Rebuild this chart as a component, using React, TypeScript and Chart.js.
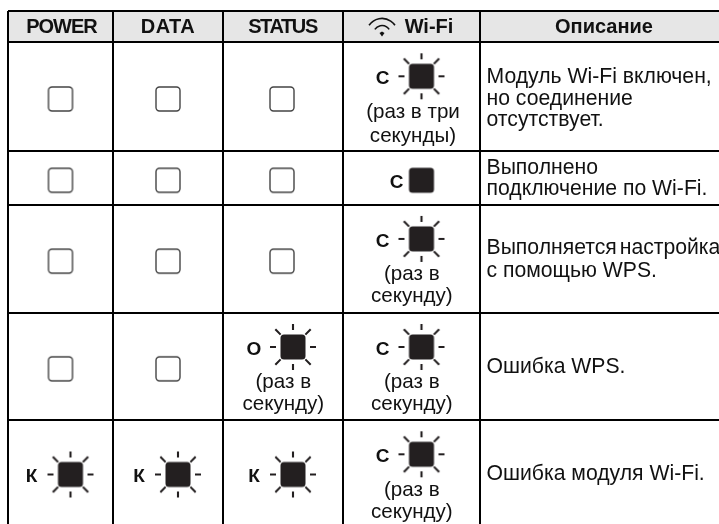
import React, { useEffect, useRef } from "react";
import { Chart, registerables } from "chart.js";

Chart.register(...registerables);

// Table grid, in the picture's own units
const columnEdges = [8, 113, 223, 343, 480];
const rowEdges = [11, 42, 151, 204.6, 312.7, 420];

const headers = ["POWER", "DATA", "STATUS", "Wi-Fi", "Описание"];

// LED state per row: "off" | "solid" | "blink", with a colour letter
const powerStates = ["off", "off", "off", "off", "blink"];
const dataStates = ["off", "off", "off", "off", "blink"];
const statusStates = ["off", "off", "off", "blink", "blink"];
const wifiStates = ["blink", "solid", "blink", "blink", "blink"];

const powerLetters = ["", "", "", "", "К"];
const dataLetters = ["", "", "", "", "К"];
const statusLetters = ["", "", "", "О", "К"];
const wifiLetters = ["С", "С", "С", "С", "С"];

const statusNotes: string[][] = [[], [], [], ["(раз в", "секунду)"], []];
const wifiNotes: string[][] = [
  ["(раз в три", "секунды)"],
  [],
  ["(раз в", "секунду)"],
  ["(раз в", "секунду)"],
  ["(раз в", "секунду)"],
];

const descriptions: string[][] = [
  ["Модуль Wi-Fi включен,", "но соединение", "отсутствует."],
  ["Выполнено", "подключение по Wi-Fi."],
  ["Выполняется настройка", "с помощью WPS."],
  ["Ошибка WPS."],
  ["Ошибка модуля Wi-Fi."],
];

const INK = "#231f20";
const FONT = '"Liberation Sans", Arial, sans-serif';

function sprite(size: number, draw: (c: CanvasRenderingContext2D) => void) {
  const cv = document.createElement("canvas");
  cv.width = size;
  cv.height = size;
  const c = cv.getContext("2d")!;
  c.translate(size / 2, size / 2);
  draw(c);
  return cv;
}

function makeOff() {
  return sprite(28, (c) => {
    c.beginPath();
    c.roundRect(-12, -12, 24, 24, 3.5);
    c.fillStyle = "#fff";
    c.fill();
    c.strokeStyle = "#444";
    c.lineWidth = 1.4;
    c.stroke();
  });
}

function makeSolid() {
  return sprite(28, (c) => {
    c.beginPath();
    c.roundRect(-12.5, -12.5, 25, 25, 3.5);
    c.fillStyle = INK;
    c.fill();
  });
}

function makeBlink() {
  return sprite(52, (c) => {
    c.beginPath();
    c.roundRect(-12.5, -12.5, 25, 25, 3.5);
    c.fillStyle = INK;
    c.fill();
    c.strokeStyle = INK;
    c.lineWidth = 2.1;
    c.beginPath();
    for (let i = 0; i < 8; i++) {
      const a = (i * Math.PI) / 4;
      const diag = i % 2 === 1;
      const r0 = diag ? 17.5 : 17;
      const r1 = diag ? 25 : 23;
      c.moveTo(Math.cos(a) * r0, Math.sin(a) * r0);
      c.lineTo(Math.cos(a) * r1, Math.sin(a) * r1);
    }
    c.stroke();
  });
}

function makeWifi() {
  return sprite(32, (c) => {
    c.strokeStyle = "#111";
    c.fillStyle = "#111";
    c.lineWidth = 1.6;
    const cy = 7;
    c.beginPath();
    c.arc(0, cy, 15.6, -Math.PI / 2 - 0.98, -Math.PI / 2 + 0.98);
    c.stroke();
    c.beginPath();
    c.arc(0, cy, 8.5, -Math.PI / 2 - 1, -Math.PI / 2 + 1);
    c.stroke();
    c.beginPath();
    c.moveTo(-2.5, cy - 1);
    c.lineTo(0, cy - 2.5);
    c.lineTo(2.5, cy - 1);
    c.lineTo(0, cy + 2.5);
    c.closePath();
    c.fill();
  });
}

const colCenter = (i: number) => (columnEdges[i] + (columnEdges[i + 1] ?? 720)) / 2;
const rowCenter = (r: number) => (rowEdges[r + 1] + (rowEdges[r + 2] ?? 524)) / 2;
const rowTop = (r: number) => rowEdges[r + 1];

const ledColumns = [
  { states: powerStates, letters: powerLetters, notes: [] as string[][], col: 0 },
  { states: dataStates, letters: dataLetters, notes: [] as string[][], col: 1 },
  { states: statusStates, letters: statusLetters, notes: statusNotes, col: 2 },
  { states: wifiStates, letters: wifiLetters, notes: wifiNotes, col: 3 },
];

function ledY(r: number, hasNote: boolean) {
  return hasNote ? rowTop(r) + 34.3 : rowCenter(r) + 2.5;
}

function ledPoints(state: string) {
  const pts: { x: number; y: number }[] = [];
  ledColumns.forEach(({ states, notes, col }) => {
    states.forEach((s, r) => {
      if (s !== state) return;
      const cx = colCenter(col);
      const x = s === "off" ? cx - (col === 2 ? 1 : 0) : cx + 10;
      pts.push({ x, y: ledY(r, !!notes[r]?.length) });
    });
  });
  return pts;
}

const tablePlugin = {
  id: "tablePlugin",
  beforeDraw(chart: any) {
    const { ctx } = chart;
    const xs = chart.scales.x;
    const ys = chart.scales.y;
    ctx.save();
    ctx.fillStyle = "#e6e6e6";
    ctx.fillRect(
      xs.getPixelForValue(columnEdges[0]),
      ys.getPixelForValue(rowEdges[0]),
      xs.getPixelForValue(719) - xs.getPixelForValue(columnEdges[0]),
      ys.getPixelForValue(rowEdges[1]) - ys.getPixelForValue(rowEdges[0])
    );
    ctx.restore();
  },
  afterDraw(chart: any) {
    const { ctx } = chart;
    const X = (v: number) => chart.scales.x.getPixelForValue(v);
    const Y = (v: number) => chart.scales.y.getPixelForValue(v);
    ctx.save();
    ctx.fillStyle = "#111";
    ctx.textBaseline = "alphabetic";

    // headers
    ctx.font = `bold 20px ${FONT}`;
    ctx.textAlign = "center";
    const headerX = [61.5, 168, 282.5, 429, 604];
    const headerTrack = ["-1px", "0.5px", "-1.4px", "0px", "0px"];
    headers.forEach((h, i) => {
      ctx.letterSpacing = headerTrack[i];
      ctx.fillText(h, X(headerX[i]), Y(33));
    });
    ctx.letterSpacing = "0px";

    // letters & notes
    ledColumns.forEach(({ letters, notes, states, col }) => {
      const cx = colCenter(col);
      letters.forEach((l, r) => {
        if (!l) return;
        const hasNote = !!notes[r]?.length;
        const y = ledY(r, hasNote);
        const isSolid = states[r] === "solid";
        ctx.font = `bold 19px ${FONT}`;
        ctx.textAlign = "center";
        ctx.fillText(l, X(cx + (isSolid ? -15 : -29)), Y(y + 7.8));
      });
      notes.forEach((lines, r) => {
        ctx.font = `20.6px ${FONT}`;
        ctx.textAlign = "center";
        const step = r === 0 ? 24 : 22;
        lines.forEach((t, k) =>
          ctx.fillText(t, X(cx + (r === 0 ? 1.5 : 0.3)), Y(rowTop(r) + 75.7 + k * step))
        );
      });
    });

    // descriptions
    ctx.font = `21.2px ${FONT}`;
    ctx.textAlign = "left";
    const baselines = [[83, 105, 126], [173.5, 195], [254, 277], [373], [480]];
    descriptions.forEach((lines, r) =>
      lines.forEach((t, k) => {
        ctx.wordSpacing = r === 2 && k === 0 ? "-3px" : "0px";
        ctx.fillText(t, X(486.5), Y(baselines[r][k]));
      })
    );
    ctx.restore();
  },
};

export default function App() {
  const ref = useRef<HTMLCanvasElement>(null);
  useEffect(() => {
    const offSprite = makeOff();
    const solidSprite = makeSolid();
    const blinkSprite = makeBlink();
    const wifiSprite = makeWifi();
    const ds = (label: string, data: any[], pointStyle: any) => ({
      label,
      data,
      pointStyle,
      showLine: false,
      pointRadius: 12,
      pointHoverRadius: 12,
    });
    const chart = new Chart(ref.current!, {
      type: "scatter",
      data: {
        datasets: [
          ds("off", ledPoints("off"), offSprite),
          ds("solid", ledPoints("solid"), solidSprite),
          ds("blink", ledPoints("blink"), blinkSprite),
          ds("wifi icon", [{ x: 382, y: 27 }], wifiSprite),
        ],
      },
      plugins: [tablePlugin],
      options: {
        responsive: false,
        animation: false,
        events: [],
        layout: { autoPadding: false, padding: { left: 8, top: 11, right: 0, bottom: 0 } },
        plugins: { legend: { display: false }, tooltip: { enabled: false } },
        scales: {
          x: {
            type: "linear",
            min: 8,
            max: 719,
            afterBuildTicks: (s: any) => {
              s.ticks = columnEdges.map((value) => ({ value }));
            },
            ticks: { display: false },
            border: { display: false },
            grid: { color: "#000", lineWidth: 2, drawTicks: false },
          },
          y: {
            type: "linear",
            reverse: true,
            min: 11,
            max: 524,
            afterBuildTicks: (s: any) => {
              s.ticks = rowEdges.map((value) => ({ value }));
            },
            ticks: { display: false },
            border: { display: false },
            grid: { color: "#000", lineWidth: 2, drawTicks: false },
          },
        },
      },
    } as any);
    return () => chart.destroy();
  }, []);
  return (
    <canvas
      ref={ref}
      width={719}
      height={524}
      style={{ position: "fixed", left: 0, top: 0, width: 719, height: 524, background: "#fff" }}
    />
  );
}
